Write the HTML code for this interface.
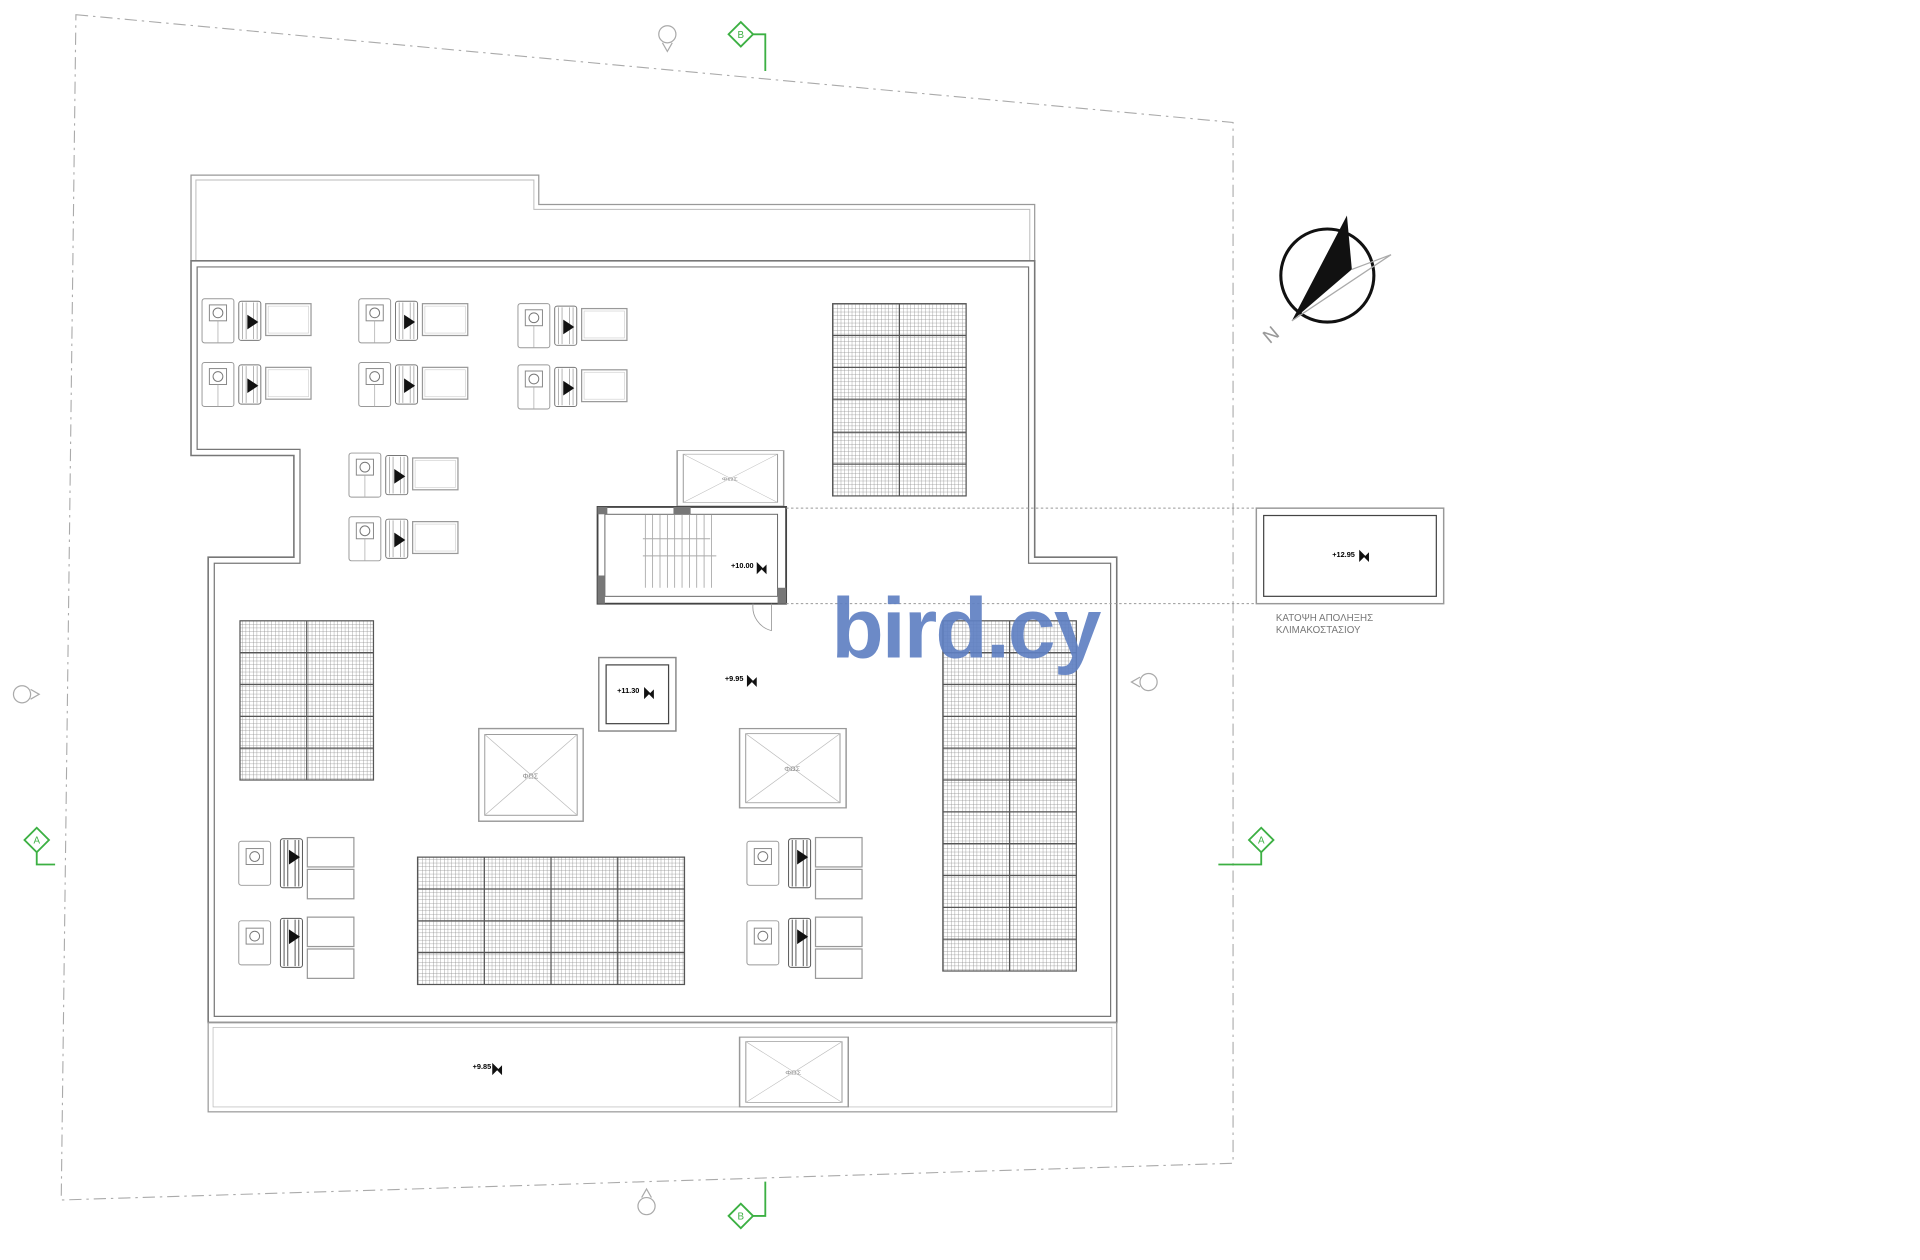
<!DOCTYPE html>
<html><head><meta charset="utf-8"><style>
html,body{margin:0;padding:0;background:#fff;}
svg{display:block;}
</style></head><body>
<svg width="1920" height="1260" viewBox="0 0 1568 1029" preserveAspectRatio="none" xmlns="http://www.w3.org/2000/svg" font-family="Liberation Sans, sans-serif">
<defs>
<pattern id="g" width="3" height="3" patternUnits="userSpaceOnUse">
<path d="M3 0V3M0 3H3" stroke="#8a8a8a" stroke-width="0.6" fill="none"/>
</pattern>
<g id="ac">
<rect x="0" y="0" width="26" height="36" rx="2" fill="#fff" stroke="#999" stroke-width="0.8"/>
<rect x="6" y="5" width="14" height="13" fill="none" stroke="#888" stroke-width="0.8"/>
<circle cx="13" cy="11.5" r="4" fill="none" stroke="#777" stroke-width="0.8"/>
<line x1="13" y1="18" x2="13" y2="36" stroke="#aaa" stroke-width="0.6"/>
<rect x="30" y="2" width="18" height="32" rx="2" fill="#fff" stroke="#777" stroke-width="0.8"/>
<path d="M33 3V33M36 3V33M42 3V33M45 3V33" stroke="#999" stroke-width="0.6"/>
<path d="M37 13L46 19L37 25Z" fill="#111"/>
<rect x="52" y="4" width="37" height="26" fill="#fff" stroke="#999" stroke-width="1"/>
<rect x="54" y="6" width="33" height="22" fill="none" stroke="#ccc" stroke-width="0.5"/>
</g>
<g id="ac2">
<rect x="0" y="2" width="26" height="36" rx="2" fill="#fff" stroke="#999" stroke-width="0.8"/>
<rect x="6" y="8" width="14" height="13" fill="none" stroke="#888" stroke-width="0.8"/>
<circle cx="13" cy="14.5" r="4" fill="none" stroke="#777" stroke-width="0.8"/>
<rect x="34" y="0" width="18" height="40" rx="2" fill="#fff" stroke="#555" stroke-width="0.8"/>
<path d="M37 1V39M40 1V39M46 1V39M49 1V39" stroke="#555" stroke-width="0.8"/>
<path d="M41 9L50 15L41 21Z" fill="#111"/>
<rect x="56" y="-1" width="38" height="24" fill="#fff" stroke="#999" stroke-width="1"/>
<rect x="56" y="25" width="38" height="24" fill="#fff" stroke="#999" stroke-width="1"/>
</g>
<g id="sky">
<rect x="0" y="0" width="87" height="78" fill="#fff" stroke="#999" stroke-width="1.2"/>
<rect x="5" y="5" width="77" height="68" fill="none" stroke="#999" stroke-width="0.8"/>
<path d="M5 5L82 73M82 5L5 73" stroke="#bbb" stroke-width="0.6"/>
<text x="43" y="42" font-size="6" fill="#888" text-anchor="middle">ΦΩΣ</text>
</g>
</defs>

<path d="M62 12L1007 100L1007 950L50 980Z" fill="none" stroke="#aaa" stroke-width="0.9" stroke-dasharray="10 4 2 4"/>

<path d="M156 213V143H440V167H845V213" fill="none" stroke="#999" stroke-width="1"/>
<path d="M160 213V147H436V171H841V213" fill="none" stroke="#bbb" stroke-width="0.8"/>

<path d="M156 213H845V455H912V835H170V455H240V372H156Z" fill="#fff" stroke="#777" stroke-width="1.3"/>
<path d="M161 218H840V460H907V830H175V460H245V367H161Z" fill="none" stroke="#777" stroke-width="1"/>

<rect x="170" y="835" width="742" height="73" fill="none" stroke="#999" stroke-width="1"/>
<rect x="174" y="839" width="734" height="65" fill="none" stroke="#bbb" stroke-width="0.6"/>

<use href="#ac" x="165" y="244"/>
<use href="#ac" x="165" y="296"/>
<use href="#ac" x="293" y="244"/>
<use href="#ac" x="293" y="296"/>
<use href="#ac" x="423" y="248"/>
<use href="#ac" x="423" y="298"/>
<use href="#ac" x="285" y="370"/>
<use href="#ac" x="285" y="422"/>
<use href="#ac2" x="195" y="685"/>
<use href="#ac2" x="195" y="750"/>
<use href="#ac2" x="610" y="685"/>
<use href="#ac2" x="610" y="750"/>

<g stroke="#555" stroke-width="1">
<rect x="680" y="248" width="109" height="157" fill="url(#g)"/>
<path d="M734.5 248V405M680 274H789M680 300H789M680 326H789M680 353H789M680 379H789" fill="none"/>
<rect x="196" y="507" width="109" height="130" fill="url(#g)"/>
<path d="M250.5 507V637M196 533H305M196 559H305M196 585H305M196 611H305" fill="none"/>
<rect x="770" y="507" width="109" height="286" fill="url(#g)"/>
<path d="M824.5 507V793M770 533H879M770 559H879M770 585H879M770 611H879M770 637H879M770 663H879M770 689H879M770 715H879M770 741H879M770 767H879" fill="none"/>
<rect x="341" y="700" width="218" height="104" fill="url(#g)"/>
<path d="M395.5 700V804M450 700V804M504.5 700V804M341 726H559M341 752H559M341 778H559" fill="none"/>
</g>

<use href="#sky" x="553" y="368" transform="translate(553 368) scale(1 0.58) translate(-553 -368)"/>
<use href="#sky" x="391" y="595" transform="translate(391 595) scale(0.98 0.97) translate(-391 -595)"/>
<use href="#sky" x="604" y="595" transform="translate(604 595) scale(1 0.83) translate(-604 -595)"/>
<use href="#sky" x="604" y="847" transform="translate(604 847) scale(1.02 0.73) translate(-604 -847)"/>

<rect x="488" y="414" width="154" height="79" fill="#fff" stroke="#444" stroke-width="1.5"/>
<rect x="494" y="420" width="141" height="67" fill="none" stroke="#666" stroke-width="0.8"/>
<rect x="488" y="414" width="8" height="6" fill="#777"/><rect x="550" y="414" width="14" height="6" fill="#777"/>
<rect x="488" y="470" width="6" height="23" fill="#777"/><rect x="635" y="480" width="7" height="13" fill="#777"/>
<path d="M527 420V480M533 420V480M539 420V480M545 420V480M551 420V480M557 420V480M563 420V480M569 420V480M575 420V480M581 420V480" stroke="#999" stroke-width="0.6"/>
<path d="M525 454H585M525 440H580" stroke="#aaa" stroke-width="0.8"/>
<path d="M615 493A20 20 0 0 0 630 515V493" fill="none" stroke="#999" stroke-width="0.7"/>
<text x="597" y="464" font-size="6" font-weight="bold">+10.00</text>
<path d="M618 459l5 5l-5 5zM626 461l-4 4l4 4z" fill="#111"/>

<rect x="489" y="537" width="63" height="60" fill="none" stroke="#888" stroke-width="1.2"/>
<rect x="495" y="543" width="51" height="48" fill="none" stroke="#444" stroke-width="1"/>
<text x="504" y="566" font-size="6" font-weight="bold">+11.30</text>
<path d="M526 561l5 5l-5 5zM534 563l-4 4l4 4z" fill="#111"/>

<text x="592" y="556" font-size="6" font-weight="bold">+9.95</text>
<path d="M610 551l5 5l-5 5zM618 553l-4 4l4 4z" fill="#111"/>
<text x="386" y="873" font-size="6" font-weight="bold">+9.85</text>
<path d="M402 868l5 5l-5 5zM410 870l-4 4l4 4z" fill="#111"/>

<path d="M642 415H1026M642 493H1026" stroke="#999" stroke-width="0.8" stroke-dasharray="2 2"/>

<rect x="1026" y="415" width="153" height="78" fill="none" stroke="#999" stroke-width="1.2"/>
<rect x="1032" y="421" width="141" height="66" fill="none" stroke="#444" stroke-width="1"/>
<text x="1088" y="455" font-size="6" font-weight="bold">+12.95</text>
<path d="M1110 449l5 5l-5 5zM1118 451l-4 4l4 4z" fill="#111"/>
<text x="1042" y="507" font-size="8" fill="#777">ΚΑΤΟΨΗ  ΑΠΟΛΗΞΗΣ</text>
<text x="1042" y="517" font-size="8" fill="#777">ΚΛΙΜΑΚΟΣΤΑΣΙΟΥ</text>

<circle cx="1084" cy="225" r="38" fill="none" stroke="#111" stroke-width="2.5"/>
<path d="M1100 176L1104 220L1055 262Z" fill="#111"/>
<path d="M1055 262L1136 208L1104 220" fill="none" stroke="#aaa" stroke-width="1"/>
<text x="1030" y="278" font-size="16" fill="#999" transform="rotate(-40 1038 270)">N</text>

<g fill="none" stroke="#3cb043" stroke-width="1.5">
<path d="M605 18L615 28L605 38L595 28Z"/><path d="M615 28H625V58"/>
<path d="M605 983L615 993L605 1003L595 993Z"/><path d="M615 993H625V965"/>
<path d="M30 676L40 686L30 696L20 686Z"/><path d="M30 696V706H45"/>
<path d="M1030 676L1040 686L1030 696L1020 686Z"/><path d="M1030 696V706H995"/>
</g>
<g font-size="8" fill="#3cb043" text-anchor="middle">
<text x="605" y="31">B</text><text x="605" y="996">B</text><text x="30" y="689">A</text><text x="1030" y="689">A</text>
</g>
<g fill="none" stroke="#aaa" stroke-width="1">
<circle cx="545" cy="28" r="7"/><path d="M541 35L545 42L549 35"/>
<circle cx="528" cy="985" r="7"/><path d="M524 978L528 971L532 978"/>
<circle cx="18" cy="567" r="7"/><path d="M25 563L32 567L25 571"/>
<circle cx="938" cy="557" r="7"/><path d="M931 553L924 557L931 561"/>
</g>

<text x="679" y="537" font-size="70" font-weight="bold" fill="#5f80c2" fill-opacity="0.92" letter-spacing="-1.5">bird.cy</text>
</svg>
</body></html>
